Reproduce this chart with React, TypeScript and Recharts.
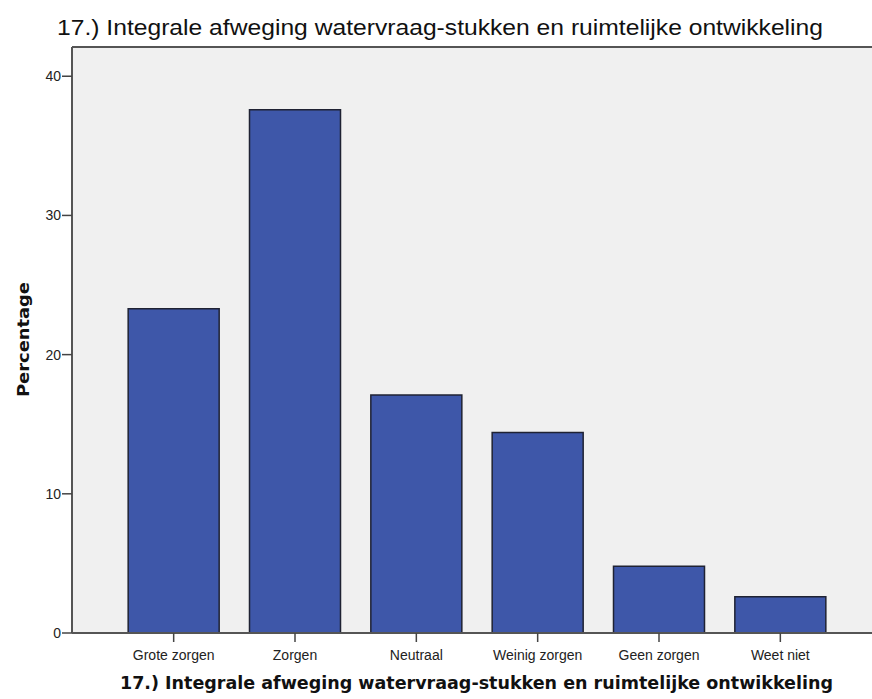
import { BarChart, Bar, XAxis, YAxis, CartesianGrid, ReferenceLine } from 'recharts';

const categories = ['Grote zorgen', 'Zorgen', 'Neutraal', 'Weinig zorgen', 'Geen zorgen', 'Weet niet'];
const percentages = [23.3, 37.6, 17.1, 14.4, 4.8, 2.6];
const yTicks = [0, 10, 20, 30, 40];
const yMax = 42.1;

const title = '17.) Integrale afweging watervraag-stukken en ruimtelijke ontwikkeling';

const data = categories.map((name, i) => ({ name, pct: percentages[i] }));

export default function App() {
  return (
    <div style={{ position: 'absolute', left: 0, top: 0, width: 872, height: 699, overflow: 'hidden', background: '#fff' }}>
      <BarChart
        width={910}
        height={699}
        data={data}
        margin={{ top: 47, right: 28, left: 0, bottom: 0 }}
        barCategoryGap="12.5%"
      >
        <CartesianGrid fill="#F0F0F0" horizontal={false} vertical={false} />
        <XAxis
          dataKey="name"
          height={66}
          padding={{ left: 41, right: 41 }}
          tickSize={9}
          tickMargin={8}
          axisLine={{ stroke: '#555', strokeWidth: 2 }}
          tickLine={{ stroke: '#444', strokeWidth: 1.5 }}
          tick={{ fontSize: 14, fill: '#222', fontFamily: 'Liberation Sans, Arial, sans-serif' }}
          interval={0}
        />
        <YAxis
          width={72}
          domain={[0, yMax]}
          ticks={yTicks}
          tickSize={10}
          tickMargin={1}
          axisLine={{ stroke: '#555', strokeWidth: 2 }}
          tickLine={{ stroke: '#444', strokeWidth: 1.5 }}
          tick={{ fontSize: 14, fill: '#222', fontFamily: 'Liberation Sans, Arial, sans-serif' }}
        />
        <ReferenceLine y={yMax} stroke="#555" strokeWidth={2} />
        <Bar dataKey="pct" fill="#3E57A9" stroke="#1F2233" strokeWidth={1.5} isAnimationActive={false} />
      </BarChart>
      <svg width={872} height={699} style={{ position: 'absolute', left: 0, top: 0, pointerEvents: 'none' }}>
        <text
          x={57} y={35} fontSize={22} fill="#111"
          fontFamily="Liberation Sans, Arial, sans-serif"
          textLength={766} lengthAdjust="spacingAndGlyphs"
        >
          {title}
        </text>
        <text
          x={120} y={689} fontSize={18} fontWeight="bold" fill="#111"
          fontFamily="DejaVu Sans, Verdana, sans-serif"
          textLength={713} lengthAdjust="spacingAndGlyphs"
        >
          {title}
        </text>
        <text
          transform="translate(29, 397) rotate(-90)"
          fontSize={16} fontWeight="bold" fill="#111"
          fontFamily="DejaVu Sans, Verdana, sans-serif"
          textLength={115} lengthAdjust="spacingAndGlyphs"
        >
          Percentage
        </text>
      </svg>
    </div>
  );
}
